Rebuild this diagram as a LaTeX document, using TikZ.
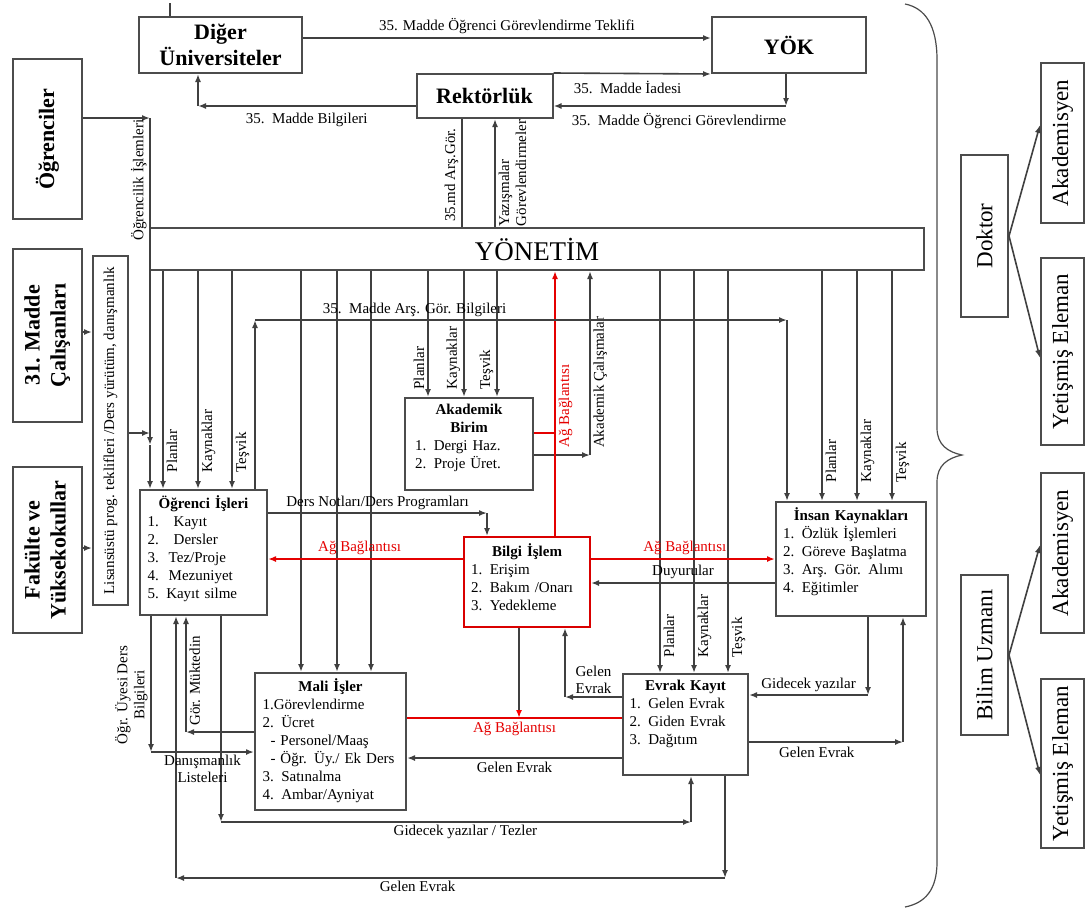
\documentclass[tikz,border=0pt]{standalone}
\usepackage{fontspec}
\setmainfont{Liberation Serif}
\usetikzlibrary{positioning, arrows.meta, decorations.pathreplacing, calc}

\newcommand{\lblfont}{\fontsize{7.5}{8.5}\selectfont}
\newcommand{\unittitle}[1]{\makebox[\linewidth]{\textbf{#1}}}

\begin{document}
\begin{tikzpicture}[
  x=0.5pt, y=-0.5pt,
  font=\fontsize{7.5}{9}\selectfont,
  >={Latex[length=4pt,width=3pt]},
  box/.style={draw=black!70, line width=1pt, inner sep=0pt},
  unit/.style={box, fill=white},
  head/.style={box, font=\fontsize{11}{13}\selectfont\bfseries, align=center},
  side/.style={box, font=\fontsize{11}{13}\selectfont\bfseries},
  role/.style={box, font=\fontsize{11.5}{13}\selectfont},
  unittext/.style={inner sep=0pt, align=left},
  flow/.style={draw=black!75, line width=0.8pt},
  net/.style={draw=red!90!black, line width=0.8pt},
  lbl/.style={font=\lblfont, inner sep=1.5pt},
  netlbl/.style={lbl, text=red!90!black},
  seg/.style={decorate, decoration={show path construction,
      lineto code={\draw[flow,->] (\tikzinputsegmentfirst) -- (\tikzinputsegmentlast);}}}
]
\useasboundingbox (0,0) rectangle (1085,911);
\fill[white] (0,0) rectangle (1085,911);

% outer bodies
\node[head, minimum width=81.5pt, minimum height=28pt] (du) at (220.5,45) {Diğer\\Üniversiteler};
\node[head, minimum width=77pt, minimum height=28pt] (yok) at (789,45) {YÖK};
\node[head, minimum width=68pt, minimum height=22pt] (rek) at (484.5,96) {Rektörlük};
\node[box, minimum width=387pt, minimum height=21pt, font=\fontsize{13.5}{15}\selectfont] (yon) at (537,249) {YÖNETİM};

% left side
\node[side, minimum width=34.5pt, minimum height=80pt] (ogr) at (47.5,139) {\rotatebox{90}{Öğrenciler}};
\node[side, minimum width=34.5pt, minimum height=86.5pt] (c31) at (47.5,335.5) {\rotatebox{90}{\begin{tabular}{@{}c@{}}31. Madde\\Çalışanları\end{tabular}}};
\node[side, minimum width=34.5pt, minimum height=83pt] (fak) at (47.5,550) {\rotatebox{90}{\begin{tabular}{@{}c@{}}Fakülte ve\\Yüksekokullar\end{tabular}}};
\node[box, minimum width=17.5pt, minimum height=174.5pt, font=\lblfont] (lis) at (110.5,430.5) {\rotatebox{90}{Lisansüstü prog. teklifleri /Ders yürütüm, danışmanlık}};

% units
\node[unit, minimum width=63.5pt, minimum height=62.5pt] (oi) at (203.5,552.5) {};
\node[unittext, text width=56pt, below=3pt of oi.north] (oi-t) {\unittitle{Öğrenci İşleri}\\1.~~~Kayıt\\2.~~~Dersler\\3.~~Tez/Proje\\4.~~Mezuniyet\\5. Kayıt silme};
\node[unit, minimum width=64pt, minimum height=46pt] (ab) at (469,444) {};
\node[unittext, text width=54pt, below=3.5pt of ab.north] (ab-t) {\unittitle{Akademik}\\\unittitle{Birim}\\1. Dergi Haz.\\2. Proje Üret.};
\node[unit, draw=red!85!black, minimum width=63pt, minimum height=45pt] (bi) at (527,582) {};
\node[unittext, text width=56pt, below=3.5pt of bi.north] (bi-t) {\unittitle{Bilgi İşlem}\\1. Erişim\\2. Bakım /Onarı\\3. Yedekleme};
\node[unit, minimum width=75pt, minimum height=57pt] (ik) at (851,559) {};
\node[unittext, text width=68pt, below=3pt of ik.north] (ik-t) {\unittitle{İnsan Kaynakları}\\1. Özlük İşlemleri\\2. Göreve Başlatma\\3. Arş. Gör. Alımı\\4. Eğitimler};
\node[unit, minimum width=75.5pt, minimum height=68.5pt] (mi) at (330.5,741.5) {};
\node[unittext, text width=68pt, below=3pt of mi.north] (mi-t) {\unittitle{Mali İşler}\\1.Görevlendirme\\2. Ücret\\\hspace*{4pt}- Personel/Maaş\\\hspace*{4pt}- Öğr. Üy./ Ek Ders\\3. Satınalma\\4. Ambar/Ayniyat};
\node[unit, minimum width=62.5pt, minimum height=50.5pt] (ek) at (685.5,724.5) {};
\node[unittext, text width=56pt, below=3.5pt of ek.north] (ek-t) {\unittitle{Evrak Kayıt}\\1. Gelen Evrak\\2. Giden Evrak\\3. Dağıtım};

% right side
\node[role, minimum width=23.5pt, minimum height=81pt] (dok) at (984.5,236) {\rotatebox{90}{Doktor}};
\node[role, minimum width=21.5pt, minimum height=80pt] (aka1) at (1062.5,143) {\rotatebox{90}{Akademisyen}};
\node[role, minimum width=21.5pt, minimum height=93.5pt] (yet1) at (1062.5,351.5) {\rotatebox{90}{Yetişmiş Eleman}};
\node[role, minimum width=23.5pt, minimum height=80pt] (bu) at (984.5,655) {\rotatebox{90}{Bilim Uzmanı}};
\node[role, minimum width=21.5pt, minimum height=80pt] (aka2) at (1062.5,553) {\rotatebox{90}{Akademisyen}};
\node[role, minimum width=21.5pt, minimum height=84.5pt] (yet2) at (1062.5,763.5) {\rotatebox{90}{Yetişmiş Eleman}};

\coordinate (tick) at (170,3);
\coordinate (bus) at (150,118);
\coordinate (netbus) at (519,718);

% top flows
\draw[flow] (tick) -- (tick |- du.north);
\draw[flow,->] (du.east |- 0,38) -- node[lbl, above] {35. Madde Öğrenci Görevlendirme Teklifi} (yok.west |- 0,38);
\draw[flow,->] (rek.north east) -- node[lbl, below, pos=0.47, yshift=-2pt] {35.~~Madde İadesi} (yok.south west);
\draw[seg] (yok.south -| 786,0) |- node[lbl, below, pos=0.73, yshift=-2pt] {35.~~Madde Öğrenci Görevlendirme} (rek.east |- 0,106);
\draw[seg] (rek.west |- 0,106) -| node[lbl, below, pos=0.25, yshift=-2pt] {35.~~Madde Bilgileri} (du.south -| 198,0);
\draw[flow] (rek.south -| 462,0) -- node[lbl, rotate=90, above, pos=0.52] {35.md Arş.Gör.} (yon.north -| 462,0);
\draw[flow,->] (yon.north -| 495,0) -- node[lbl, rotate=90, below, pos=0.5, align=left] {Yazışmalar\\Görevlendirmeler} (rek.south -| 495,0);

% left inputs
\draw[seg] (ogr.east |- bus) -- (bus) -- node[lbl, rotate=90, above, pos=0.19] {Öğrencilik İşlemleri} ++(0,327) -- (oi.north -| bus);
\draw[flow,->] (c31.east |- 0,332) -- (lis.west |- 0,332);
\draw[flow,->] (fak.east |- 0,548) -- (lis.west |- 0,548);
\draw[flow,->] (lis.east |- 0,433) -- (bus |- 0,433);

% yonetim to units
\foreach \x/\lab in {163/Planlar, 198/Kaynaklar, 232/Teşvik}
  \draw[flow,->] (yon.south -| \x,0) -- node[lbl, rotate=90, anchor=north west, pos=0.94] {\lab} (oi.north -| \x,0);
\foreach \x in {301, 337, 371}
  \draw[flow,->] (yon.south -| \x,0) -- (mi.north -| \x,0);
\foreach \x/\lab in {428/Planlar, 464/Kaynaklar, 497/Teşvik}
  \draw[flow,->] (yon.south -| \x,0) -- node[lbl, rotate=90, anchor=south west, pos=0.97] {\lab} (ab.north -| \x,0);
\foreach \x/\lab in {660/Planlar, 694/Kaynaklar, 728/Teşvik}
  \draw[flow,->] (yon.south -| \x,0) -- node[lbl, rotate=90, anchor=north west, pos=0.97] {\lab} (ek.north -| \x,0);
\foreach \x/\lab in {822/Planlar, 857/Kaynaklar, 892/Teşvik}
  \draw[flow,->] (yon.south -| \x,0) -- node[lbl, rotate=90, anchor=north west, pos=0.935] {\lab} (ik.north -| \x,0);

% akademik birim
\draw[seg] (ab.east |- 0,455) -| node[lbl, rotate=90, anchor=north west, pos=0.51] {Akademik Çalışmalar} (yon.south -| 590,0);
\draw[net] (ab.east |- 0,433) -| (bi.north -| 555,0);
\draw[net,->] (bi.north -| 555,0) -- node[netlbl, rotate=90, anchor=north west, pos=0.32] {Ağ Bağlantısı} (yon.south -| 555,0);
\draw[seg] (oi.north -| 255,0) -- (255,320) -| node[lbl, above, pos=0.15] {35.~~Madde Arş. Gör. Bilgileri} (ik.north -| 787,0);

% bilgi islem
\draw[seg] (oi.east |- 0,513) -| node[lbl, above, pos=0.25] {Ders Notları/Ders Programları} (bi.north -| 487,0);
\draw[net,->] (bi.west |- 0,559) -- node[netlbl, above, pos=0.53] {Ağ Bağlantısı} (oi.east |- 0,559);
\draw[net,->] (bi.east |- 0,559) -- node[netlbl, above, pos=0.51] {Ağ Bağlantısı} (ik.west |- 0,559);
\draw[flow,->] (ik.west |- 0,583) -- node[lbl, above] {Duyurular} (bi.east |- 0,583);
\draw[seg] (ek.west |- 0,697) -| node[lbl, above, pos=0.25, align=left] {Gelen\\Evrak} (bi.south -| 565,0);
\draw[flow, -{Latex[length=4pt,width=3pt,color=red]}] (bi.south -| netbus) -- (netbus);
\draw[net] (mi.east |- netbus) -- node[netlbl, below] {Ağ Bağlantısı} (ek.west |- netbus);

% evrak kayit
\draw[flow,->] (ek.west |- 0,758) -- node[lbl, below] {Gelen Evrak} (mi.east |- 0,758);
\draw[seg] (ik.south -| 868,0) |- node[lbl, above, pos=0.75] {Gidecek yazılar} (ek.east |- 0,695);
\draw[seg] (ek.east |- 0,742) -| node[lbl, below, pos=0.22, yshift=-1pt] {Gelen Evrak} (ik.south -| 903,0);
\draw[seg] (oi.south -| 221,0) -- (221,822) -| node[lbl, below, pos=0.26] {Gidecek yazılar / Tezler} (ek.south -| 691,0);
\draw[seg] (ek.south -| 725,0) -- (725,878) -| node[lbl, below, pos=0.28] {Gelen Evrak} (oi.south -| 176,0);

% ogrenci isleri - mali isler
\draw[seg] (oi.south -| 151,0) |- node[lbl, rotate=90, above, pos=0.29, align=center] {Öğr. Üyesi Ders\\Bilgileri} node[lbl, below, pos=0.75, align=center] {Danışmanlık\\Listeleri} (mi.west |- 0,752);
\draw[seg] (mi.west |- 0,732) -| node[lbl, rotate=90, below, pos=0.72] {Gör. Müktedin} (oi.south -| 186,0);

% right side
\draw[flow,->] (dok.east) -- (aka1.west |- 0,125);
\draw[flow,->] (dok.east) -- (yet1.west |- 0,358);
\draw[flow,->] (bu.east) -- (aka2.west |- 0,545);
\draw[flow,->] (bu.east) -- (yet2.west |- 0,775);
\draw[black!70, line width=0.6pt] (905,4) .. controls (925,8) and (937,25) .. (937,60) -- (937,428)
  .. controls (937,445) and (948,452) .. (962,455) .. controls (948,458) and (937,465) .. (937,482)
  -- (937,862) .. controls (937,890) and (925,903) .. (905,907);
\end{tikzpicture}
\end{document}
